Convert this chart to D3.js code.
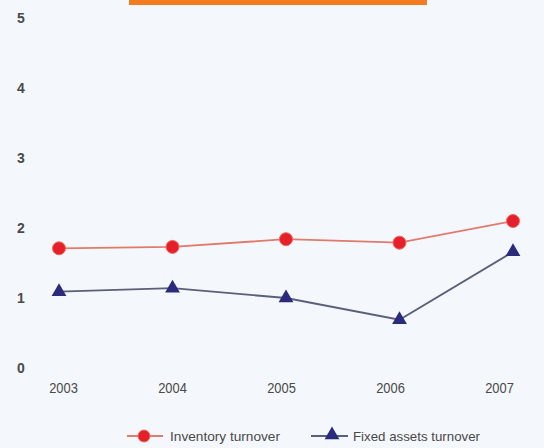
<!DOCTYPE html>
<html>
<head>
<meta charset="utf-8">
<script src="https://cdn.jsdelivr.net/npm/d3@7"></script>
<style>
  html, body { margin: 0; padding: 0; background: #f4f7fb; }
  svg { display: block; }
  text { font-family: "Liberation Sans", Arial, sans-serif; }
</style>
</head>
<body>
<svg id="chart" width="544" height="448"></svg>
<script>
// Turnover ratios by year
const years = ["2003", "2004", "2005", "2006", "2007"];
const inventoryTurnover = [1.71, 1.73, 1.84, 1.79, 2.10];
const fixedAssetsTurnover = [1.09, 1.14, 1.00, 0.69, 1.66];
const yTicks = [0, 1, 2, 3, 4, 5];
const seriesNames = ["Inventory turnover", "Fixed assets turnover"];

const svg = d3.select("#chart");
const W = 544, H = 448;

svg.append("rect").attr("width", W).attr("height", H).attr("fill", "#f4f7fb");

// orange header band
svg.append("rect")
  .attr("x", 129).attr("y", 0).attr("width", 298).attr("height", 5)
  .attr("fill", "#f47c20");

const x = d3.scalePoint().domain(years).range([59, 513]);
const xLabels = d3.scalePoint().domain(years).range([63, 499]);
const y = d3.scaleLinear().domain([0, 5]).range([368, 18]);

// y axis labels
const yAxis = d3.axisLeft(y).tickValues(yTicks).tickFormat(d3.format("d"))
  .tickSize(0).tickPadding(0);
const gy = svg.append("g").attr("transform", "translate(21,0)").call(yAxis);
gy.select(".domain").remove();
gy.selectAll("text")
  .attr("text-anchor", "middle")
  .attr("font-size", 14)
  .attr("fill", "#4a4a4a")
  .attr("font-weight", "bold")
  .attr("dy", "0.35em");

// x axis labels, slightly condensed around each tick
const xAxis = d3.axisBottom(xLabels).tickSize(0).tickPadding(0);
const gx = svg.append("g").attr("transform", "translate(0,382)").call(xAxis);
gx.select(".domain").remove();
gx.selectAll("text")
  .attr("font-size", 15)
  .attr("fill", "#4a4a4a")
  .attr("dy", "0.71em")
  .attr("transform", "scale(0.86,1)");

const line = d3.line().x((d, i) => x(years[i])).y(d => y(d));
const tri = d3.symbol().type(d3.symbolTriangle).size(95);

// inventory turnover
svg.append("path")
  .datum(inventoryTurnover)
  .attr("d", line)
  .attr("fill", "none")
  .attr("stroke", "#e27a6c")
  .attr("stroke-width", 1.8);

// fixed assets turnover
svg.append("path")
  .datum(fixedAssetsTurnover)
  .attr("d", line)
  .attr("fill", "none")
  .attr("stroke", "#5a5f7a")
  .attr("stroke-width", 1.8);

svg.append("g").selectAll("circle")
  .data(inventoryTurnover)
  .join("circle")
  .attr("cx", (d, i) => x(years[i]))
  .attr("cy", d => y(d))
  .attr("r", 6.5)
  .attr("fill", "#e5202b")
  .attr("stroke", "#f06a60")
  .attr("stroke-width", 1);

svg.append("g").selectAll("path")
  .data(fixedAssetsTurnover)
  .join("path")
  .attr("d", tri)
  .attr("transform", (d, i) => `translate(${x(years[i])},${y(d)})`)
  .attr("fill", "#2b2a7c");

// legend
const lg = svg.append("g").attr("transform", "translate(0,436)");
lg.append("line").attr("x1", 127).attr("x2", 163).attr("y1", 0).attr("y2", 0)
  .attr("stroke", "#e27a6c").attr("stroke-width", 1.8);
lg.append("circle").attr("cx", 144).attr("cy", 0).attr("r", 6)
  .attr("fill", "#e5202b").attr("stroke", "#f06a60");
lg.append("text").attr("x", 170).attr("y", 0).attr("dy", "0.35em")
  .attr("font-size", 13).attr("fill", "#4a4a4a")
  .attr("textLength", 110).attr("lengthAdjust", "spacingAndGlyphs")
  .text(seriesNames[0]);

lg.append("line").attr("x1", 311).attr("x2", 348).attr("y1", 0).attr("y2", 0)
  .attr("stroke", "#5a5f7a").attr("stroke-width", 1.8);
lg.append("path").attr("d", tri).attr("transform", "translate(332,-1)")
  .attr("fill", "#2b2a7c");
lg.append("text").attr("x", 353).attr("y", 0).attr("dy", "0.35em")
  .attr("font-size", 13).attr("fill", "#4a4a4a")
  .attr("textLength", 127).attr("lengthAdjust", "spacingAndGlyphs")
  .text(seriesNames[1]);
</script>
</body>
</html>
